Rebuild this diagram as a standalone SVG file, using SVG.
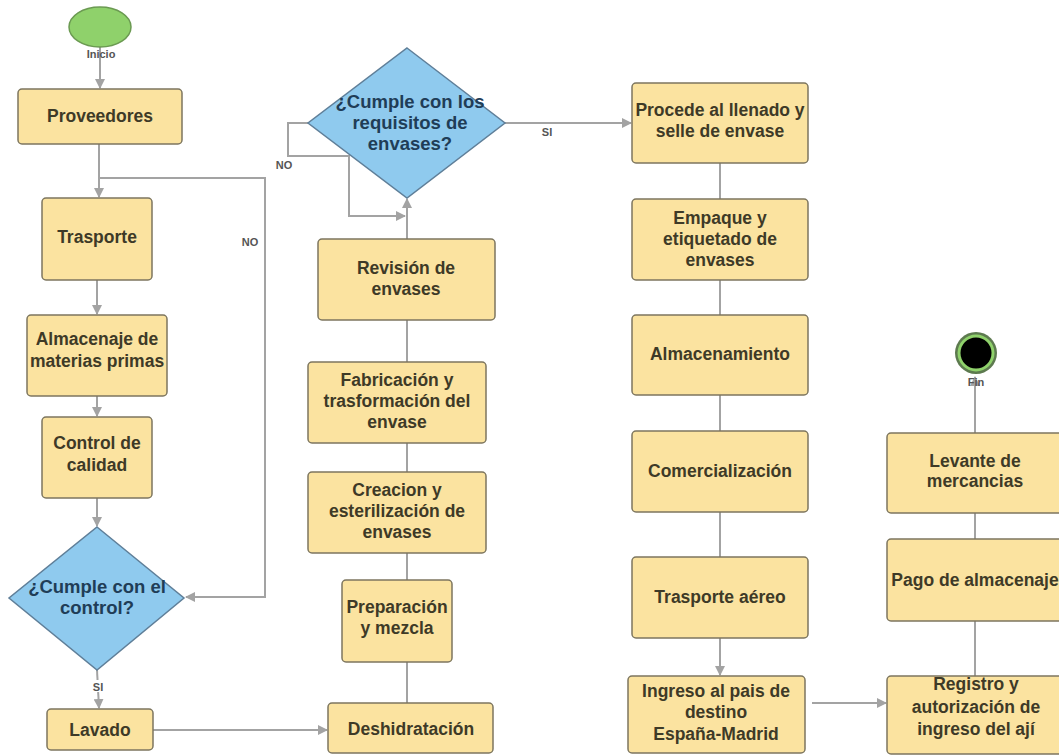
<svg xmlns="http://www.w3.org/2000/svg" width="1059" height="756" viewBox="0 0 1059 756">
  <style>
    .box { fill: #fbe3a0; stroke: #7d765f; stroke-width: 1.5; }
    .dec { fill: #8fcaee; stroke: #5f7f99; stroke-width: 1.5; }
    .t { font-family: "Liberation Sans", Arial, sans-serif; font-weight: bold; font-size: 17.5px; fill: #3e3a27; text-anchor: middle; }
    .td { font-family: "Liberation Sans", Arial, sans-serif; font-weight: bold; font-size: 18.5px; fill: #1f3d57; text-anchor: middle; }
    .lbl { font-family: "Liberation Sans", Arial, sans-serif; font-weight: bold; font-size: 11px; fill: #555555; text-anchor: middle; }
    .ln { fill: none; stroke: #a3a3a3; stroke-width: 2; }
    .arr { fill: none; stroke: #a3a3a3; stroke-width: 2; marker-end: url(#ah); }
  </style>
  <defs>
    <marker id="ah" viewBox="0 0 10 10" refX="9" refY="5" markerWidth="5" markerHeight="5" orient="auto" markerUnits="strokeWidth">
      <path d="M0,0 L10,5 L0,10 z" fill="#a3a3a3"/>
    </marker>
  </defs>

  <rect width="1059" height="756" fill="#ffffff"/>

  <!-- connectors -->
  <g id="connectors">
    <path class="arr" d="M100,47 L100,88"/>
    <path class="arr" d="M99,144 L99,197"/>
    <path class="arr" d="M99,178 L265,178 L265,597 L186,597"/>
    <path class="arr" d="M97,280 L97,314"/>
    <path class="arr" d="M97,396 L97,416"/>
    <path class="arr" d="M97,498 L97,526"/>
    <path class="arr" d="M97,670 L99,708"/>
    <path class="arr" d="M153,730 L327,730"/>
    <path class="ln" d="M407,703 L407,662"/>
    <path class="ln" d="M407,580 L407,553"/>
    <path class="ln" d="M407,472 L407,443"/>
    <path class="ln" d="M407,362 L407,320"/>
    <path class="arr" d="M407,239 L407,199"/>
    <path class="arr" d="M308,123 L288,123 L288,156 L349,156 L349,216 L405,216"/>
    <path class="arr" d="M505,123 L631,123"/>
    <path class="ln" d="M720,163 L720,199"/>
    <path class="ln" d="M720,280 L720,315"/>
    <path class="ln" d="M720,395 L720,431"/>
    <path class="ln" d="M720,512 L720,557"/>
    <path class="arr" d="M720,638 L720,675"/>
    <path class="arr" d="M812,703 L886,703"/>
    <path class="ln" d="M975,676 L975,621"/>
    <path class="ln" d="M975,539 L975,513"/>
    <path class="arr" d="M975,433 L975,377"/>
    <!-- connector labels -->
    <rect x="91" y="680" width="14" height="12" fill="#ffffff"/>
    <text class="lbl" x="98" y="691">SI</text>
    <text class="lbl" x="250" y="246">NO</text>
    <text class="lbl" x="284" y="169">NO</text>
    <text class="lbl" x="547" y="136">SI</text>
  </g>

  <!-- start -->
  <g id="inicio">
    <ellipse cx="100" cy="27" rx="31" ry="20" fill="#8fd16b" stroke="#6b9a52" stroke-width="1.5"/>
    <text class="lbl" x="101" y="58">Inicio</text>
  </g>

  <g id="proveedores">
    <rect class="box" x="18" y="89" width="164" height="55" rx="4"/>
    <text class="t" x="100" y="122">Proveedores</text>
  </g>

  <g id="trasporte">
    <rect class="box" x="42" y="198" width="110" height="82" rx="4"/>
    <text class="t" x="97" y="243">Trasporte</text>
  </g>

  <g id="almacenaje">
    <rect class="box" x="27" y="315" width="140" height="81" rx="4"/>
    <text class="t" x="97" y="345">Almacenaje de</text>
    <text class="t" x="97" y="367">materias primas</text>
  </g>

  <g id="control">
    <rect class="box" x="42" y="417" width="110" height="81" rx="4"/>
    <text class="t" x="97" y="449">Control de</text>
    <text class="t" x="97" y="471">calidad</text>
  </g>

  <g id="decision-control">
    <path class="dec" d="M97,527 L184,598 L97,670 L9,598 Z"/>
    <text class="td" x="97" y="593">¿Cumple con el</text>
    <text class="td" x="97" y="614">control?</text>
  </g>

  <g id="lavado">
    <rect class="box" x="47" y="709" width="106" height="41" rx="4"/>
    <text class="t" x="100" y="736">Lavado</text>
  </g>

  <g id="deshidratacion">
    <rect class="box" x="328" y="703" width="165" height="50" rx="4"/>
    <text class="t" x="411" y="735">Deshidratación</text>
  </g>

  <g id="preparacion">
    <rect class="box" x="342" y="580" width="110" height="82" rx="4"/>
    <text class="t" x="397" y="613">Preparación</text>
    <text class="t" x="397" y="634">y mezcla</text>
  </g>

  <g id="creacion">
    <rect class="box" x="308" y="472" width="178" height="81" rx="4"/>
    <text class="t" x="397" y="496">Creacion y</text>
    <text class="t" x="397" y="517">esterilización de</text>
    <text class="t" x="397" y="538">envases</text>
  </g>

  <g id="fabricacion">
    <rect class="box" x="308" y="362" width="178" height="81" rx="4"/>
    <text class="t" x="397" y="386">Fabricación y</text>
    <text class="t" x="397" y="407">trasformación del</text>
    <text class="t" x="397" y="428">envase</text>
  </g>

  <g id="revision">
    <rect class="box" x="318" y="239" width="177" height="81" rx="4"/>
    <text class="t" x="406" y="274">Revisión de</text>
    <text class="t" x="406" y="295">envases</text>
  </g>

  <g id="decision-envases">
    <path class="dec" d="M407,48 L505,123 L407,198 L308,123 Z"/>
    <text class="td" x="410" y="108">¿Cumple con los</text>
    <text class="td" x="410" y="129">requisitos de</text>
    <text class="td" x="410" y="150">envases?</text>
  </g>

  <g id="procede">
    <rect class="box" x="632" y="83" width="176" height="80" rx="4"/>
    <text class="t" x="720" y="116">Procede al llenado y</text>
    <text class="t" x="720" y="137">selle de envase</text>
  </g>

  <g id="empaque">
    <rect class="box" x="632" y="199" width="176" height="81" rx="4"/>
    <text class="t" x="720" y="224">Empaque y</text>
    <text class="t" x="720" y="245">etiquetado de</text>
    <text class="t" x="720" y="266">envases</text>
  </g>

  <g id="almacenamiento">
    <rect class="box" x="632" y="315" width="176" height="80" rx="4"/>
    <text class="t" x="720" y="360">Almacenamiento</text>
  </g>

  <g id="comercializacion">
    <rect class="box" x="632" y="431" width="176" height="81" rx="4"/>
    <text class="t" x="720" y="477">Comercialización</text>
  </g>

  <g id="trasporte-aereo">
    <rect class="box" x="632" y="557" width="176" height="81" rx="4"/>
    <text class="t" x="720" y="603">Trasporte aéreo</text>
  </g>

  <g id="ingreso">
    <rect class="box" x="628" y="676" width="177" height="77" rx="4"/>
    <text class="t" x="716" y="697">Ingreso al pais de</text>
    <text class="t" x="716" y="718">destino</text>
    <text class="t" x="716" y="740">España-Madrid</text>
  </g>

  <g id="registro">
    <rect class="box" x="887" y="676" width="176" height="78" rx="4"/>
    <text class="t" x="976" y="690">Registro y</text>
    <text class="t" x="976" y="713">autorización de</text>
    <text class="t" x="976" y="735">ingreso del ají</text>
  </g>

  <g id="pago">
    <rect class="box" x="887" y="539" width="176" height="82" rx="4"/>
    <text class="t" x="975" y="586">Pago de almacenaje</text>
  </g>

  <g id="levante">
    <rect class="box" x="887" y="433" width="176" height="80" rx="4"/>
    <text class="t" x="975" y="467">Levante de</text>
    <text class="t" x="975" y="487">mercancias</text>
  </g>

  <!-- end -->
  <g id="fin">
    <circle cx="976" cy="353" r="21" fill="#5d7a4f"/>
    <circle cx="976" cy="353" r="18.5" fill="#8fd16b"/>
    <circle cx="976" cy="353" r="15.5" fill="#000000"/>
    <text class="lbl" x="976" y="386">Fin</text>
  </g>
</svg>
